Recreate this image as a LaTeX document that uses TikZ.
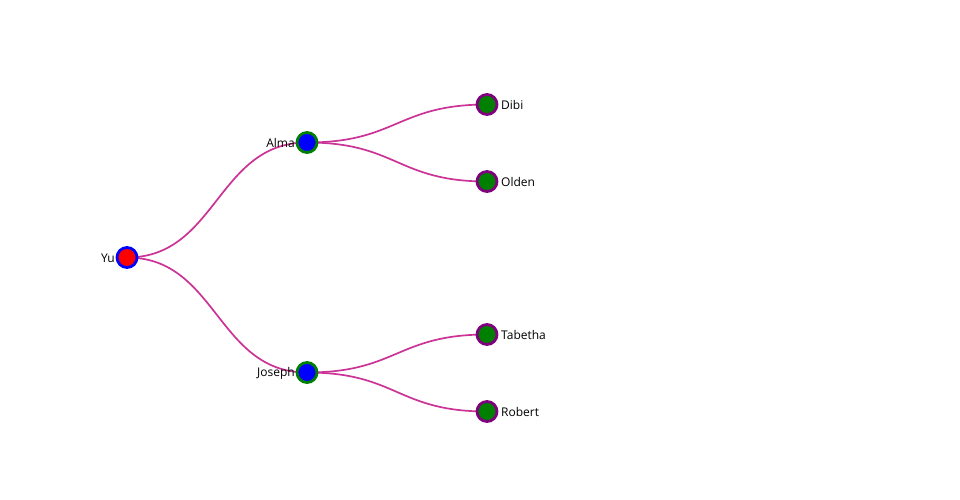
\documentclass[tikz,border=0pt]{standalone}
\usepackage{fontspec}
\setmainfont{Open Sans}
\usetikzlibrary{calc}
\definecolor{linkc}{RGB}{204,51,150}
\definecolor{dgreen}{RGB}{0,128,0}
\definecolor{dpurple}{RGB}{128,0,128}
\tikzset{
  dot/.style={circle,minimum size=20pt,inner sep=0pt,line width=2.8pt},
  rootdot/.style={dot,draw=blue,fill=red},
  middot/.style={dot,draw=dgreen,fill=blue},
  leafdot/.style={dot,draw=dpurple,fill=dgreen},
  link/.style={draw=linkc,line width=1.7pt},
  lbl/.style={font=\fontsize{12}{14}\selectfont,inner sep=0pt,text=black}
}
\newcommand{\lnk}[2]{\draw[link] let \p1=(#1.center), \p2=(#2.center) in (\p1) .. controls ({(\x1+\x2)/2},\y1) and ({(\x1+\x2)/2},\y2) .. (\p2);}
\begin{document}
\begin{tikzpicture}[x=1pt,y=-1pt]
\useasboundingbox[fill=white] (0,0) rectangle (960,500);
\coordinate (cyu) at (127,257.5);
\coordinate (calma) at (307,142.5);
\coordinate (cjoseph) at (307,372.5);
\coordinate (cdibi) at (487,104.5);
\coordinate (colden) at (487,181.5);
\coordinate (ctab) at (487,334.5);
\coordinate (crob) at (487,411.5);
\lnk{cyu}{calma}
\lnk{cyu}{cjoseph}
\lnk{calma}{cdibi}
\lnk{calma}{colden}
\lnk{cjoseph}{ctab}
\lnk{cjoseph}{crob}
\node[rootdot] (yu) at (cyu) {};
\node[middot] (alma) at (calma) {};
\node[middot] (joseph) at (cjoseph) {};
\node[leafdot] (dibi) at (cdibi) {};
\node[leafdot] (olden) at (colden) {};
\node[leafdot] (tab) at (ctab) {};
\node[leafdot] (rob) at (crob) {};
\node[lbl,anchor=east] (tyu) at ($(cyu)+(-12,0.5)$) {Yu};
\node[lbl,anchor=east] (talma) at ($(calma)+(-12,0.5)$) {Alma};
\node[lbl,anchor=east] (tjoseph) at ($(cjoseph)+(-12,0.5)$) {Joseph};
\node[lbl,anchor=west] (tdibi) at ($(cdibi)+(14,0.5)$) {Dibi};
\node[lbl,anchor=west] (tolden) at ($(colden)+(14,0.5)$) {Olden};
\node[lbl,anchor=west] (ttab) at ($(ctab)+(14,0.5)$) {Tabetha};
\node[lbl,anchor=west] (trob) at ($(crob)+(14,0.5)$) {Robert};
\end{tikzpicture}
\end{document}
